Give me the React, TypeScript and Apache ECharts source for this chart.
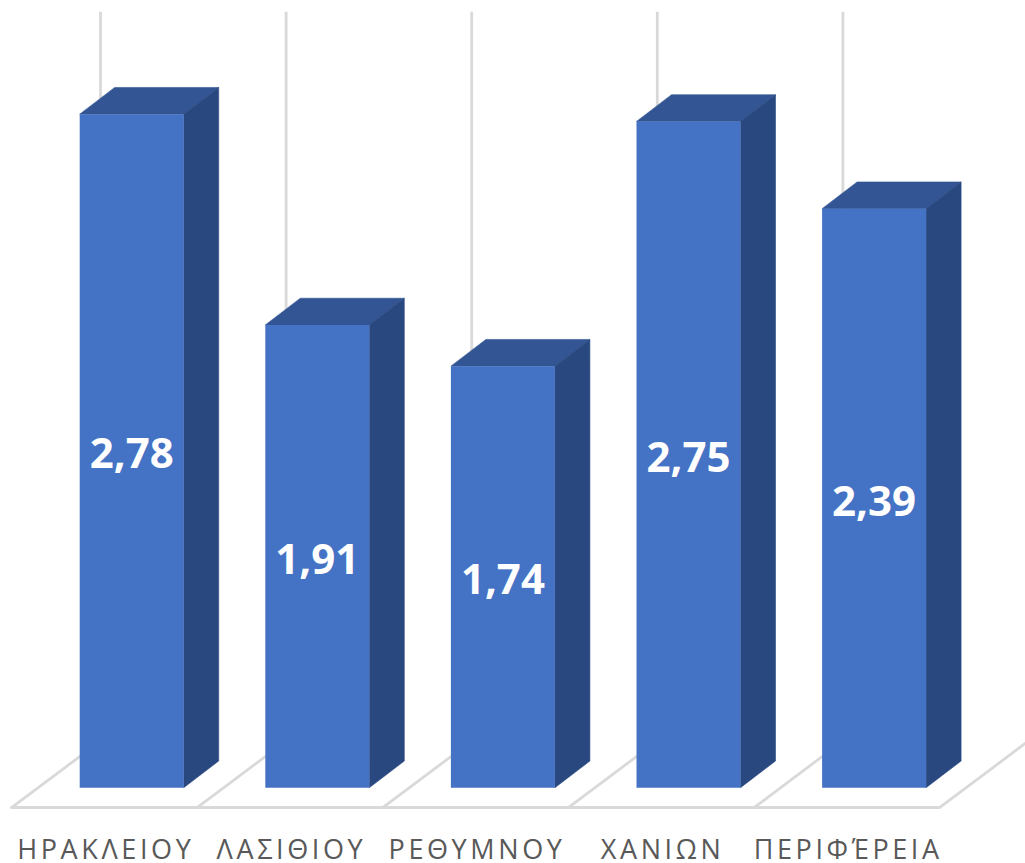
import React, { useEffect, useRef } from "react";
import * as echarts from "echarts";

const categories = ["ΗΡΑΚΛΕΙΟΥ", "ΛΑΣΙΘΙΟΥ", "ΡΕΘΥΜΝΟΥ", "ΧΑΝΙΩΝ", "ΠΕΡΙΦΈΡΕΙΑ"];
const values = [2.78, 1.91, 1.74, 2.75, 2.39];

const FRONT = "#4472C4";
const TOP = "#335593";
const SIDE = "#2A4880";
const GRID = "#D9D9D9";
const TEXT = "#595959";
const FONT = '"Open Sans", sans-serif';
const BAR_W = 104;
const DEPTH_X = 35;
const DEPTH_Y = 26.7;
const BAR_SHIFT_X = 27.4;
const BAR_SHIFT_Y = 20;

export default function App() {
  const ref = useRef<HTMLDivElement>(null);
  useEffect(() => {
    document.body.style.margin = "0";
    document.body.style.overflow = "hidden";
    const chart = echarts.init(ref.current!, undefined, { renderer: "svg" });
    chart.setOption({
      animation: false,
      backgroundColor: "#fff",
      grid: { left: 11.5, right: 85.5, top: 11.8, bottom: 55.3 },
      xAxis: {
        type: "category",
        data: categories,
        axisLine: { show: true, lineStyle: { color: GRID, width: 2.8 } },
        axisTick: { show: false },
        axisLabel: { interval: 0, margin: 27, color: TEXT, fontFamily: FONT, fontSize: 27 },
        splitLine: { show: false },
      },
      yAxis: { type: "value", min: 0, max: 3.285, show: false, splitLine: { show: false } },
      series: [
        {
          type: "custom",
          silent: true,
          z: 1,
          clip: false,
          data: values,
          renderItem: (params: any, api: any) => {
            const i = params.dataIndex;
            const band = api.size([1, 0])[0];
            const base = api.coord([i, 0]);
            const topY = params.coordSys.y;
            const left = base[0] - band / 2;
            const line = (x1: number, y1: number, x2: number, y2: number) => ({
              type: "line",
              shape: { x1, y1, x2, y2 },
              style: { stroke: GRID, lineWidth: 2.8, fill: null },
            });
            const dx = 89;
            const dy = 66.7;
            const children: any[] = [
              line(left, base[1], left + dx, base[1] - dy),
              line(left + dx, base[1] - dy, left + dx, topY),
            ];
            if (i === categories.length - 1) {
              children.push(line(left + band, base[1], left + band + dx, base[1] - dy));
            }
            return { type: "group", children };
          },
        },
        {
          type: "custom",
          silent: true,
          z: 2,
          clip: false,
          data: values.map((v, i) => [i, v]),
          encode: { x: 0, y: 1 },
          renderItem: (params: any, api: any) => {
            const v = api.value(1);
            const base = api.coord([api.value(0), 0]);
            const head = api.coord([api.value(0), v]);
            const x0 = base[0] + BAR_SHIFT_X - BAR_W / 2;
            const x1 = x0 + BAR_W;
            const yb = base[1] - BAR_SHIFT_Y;
            const yt = head[1] - BAR_SHIFT_Y;
            return {
              type: "group",
              children: [
                {
                  type: "polygon",
                  shape: { points: [[x0, yt], [x0 + DEPTH_X, yt - DEPTH_Y], [x1 + DEPTH_X, yt - DEPTH_Y], [x1, yt]] },
                  style: { fill: TOP, stroke: TOP, lineWidth: 0.6 },
                },
                {
                  type: "polygon",
                  shape: { points: [[x1, yt], [x1 + DEPTH_X, yt - DEPTH_Y], [x1 + DEPTH_X, yb - DEPTH_Y], [x1, yb]] },
                  style: { fill: SIDE, stroke: SIDE, lineWidth: 0.6 },
                },
                { type: "rect", shape: { x: x0, y: yt, width: BAR_W, height: yb - yt }, style: { fill: FRONT } },
                {
                  type: "text",
                  style: {
                    text: v.toFixed(2).replace(".", ","),
                    x: (x0 + x1) / 2,
                    y: (yt + yb) / 2 + 1,
                    textAlign: "center",
                    textVerticalAlign: "middle",
                    fill: "#FFFFFF",
                    fontFamily: FONT,
                    fontWeight: "bold",
                    fontSize: 42,
                  },
                },
              ],
            };
          },
        },
      ],
    });
    ref.current!.querySelectorAll("text").forEach((t) => {
      if (categories.includes((t.textContent || "").trim())) {
        (t as SVGTextElement).style.letterSpacing = "3.6px";
        t.setAttribute("dx", "1.5");
      }
    });
    return () => chart.dispose();
  }, []);
  return <div ref={ref} style={{ position: "absolute", left: 0, top: 0, width: 1025, height: 863 }} />;
}
